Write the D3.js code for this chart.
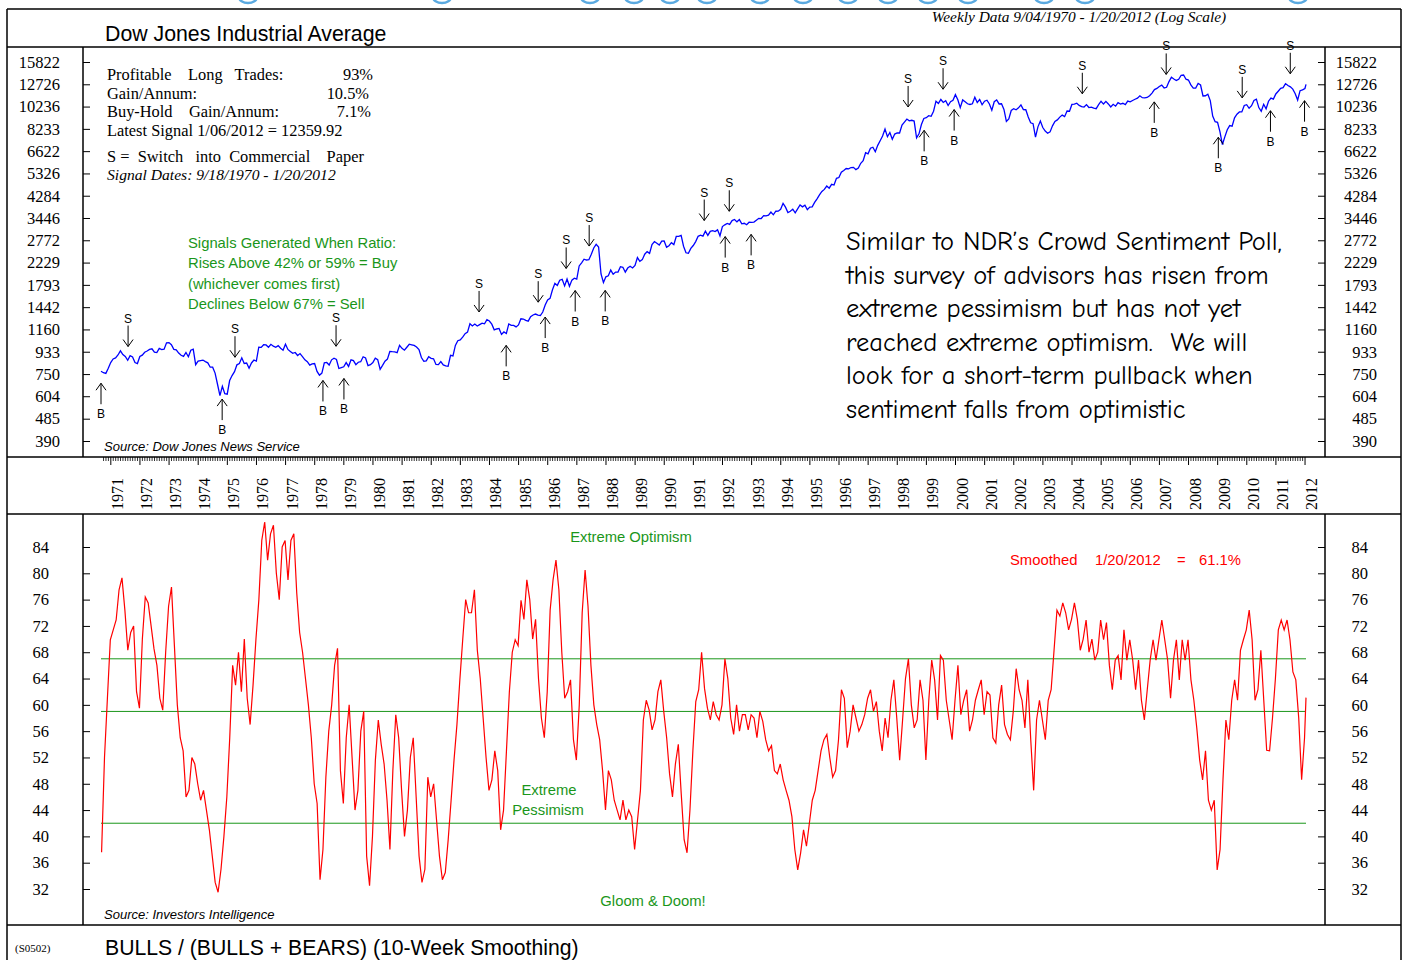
<!DOCTYPE html>
<html>
<head>
<meta charset="utf-8">
<script src="https://cdn.jsdelivr.net/npm/d3@7"></script>
<style>
body{margin:0;background:#fff;}
svg text{white-space:pre;}
</style>
</head>
<body>
<svg id="chart" width="1403" height="960"></svg>
<script>
// ---- data ----
// Dow Jones Industrial Average, monthly samples starting 9/04/1970
const djiaStart = 1970.68;
const djiaValues = [
 771, 760, 755, 794, 839,
 869, 878, 904, 941, 907, 891, 858, 898, 887, 839, 831, 890,
 902, 928, 940, 954, 960, 929, 925, 964, 953, 956, 1018, 1020,
 999, 955, 951, 921, 901, 891, 926, 888, 947, 956, 822, 851,
 856, 860, 847, 837, 802, 802, 757, 679, 608, 665, 619, 616,
 704, 739, 768, 821, 832, 879, 832, 835, 794, 836, 860, 852,
 975, 973, 999, 997, 975, 1003, 985, 974, 990, 965, 947, 1004,
 954, 936, 919, 926, 899, 916, 890, 862, 847, 818, 829, 831,
 770, 742, 757, 837, 840, 819, 862, 876, 865, 792, 799, 805,
 839, 808, 862, 855, 822, 842, 846, 888, 878, 815, 822, 839,
 876, 863, 786, 817, 851, 868, 935, 933, 932, 925, 993, 964,
 947, 975, 1004, 998, 992, 977, 953, 882, 850, 853, 889, 875,
 871, 824, 823, 848, 820, 812, 809, 901, 896, 992, 1039, 1047,
 1076, 1113, 1130, 1226, 1200, 1222, 1199, 1216, 1233, 1225, 1276, 1259,
 1221, 1155, 1165, 1171, 1105, 1132, 1115, 1224, 1207, 1207, 1189, 1212,
 1287, 1284, 1267, 1258, 1315, 1336, 1348, 1334, 1329, 1375, 1472, 1547,
 1571, 1709, 1819, 1784, 1877, 1893, 1775, 1898, 1768, 1878, 1914, 1896,
 2158, 2224, 2305, 2286, 2292, 2419, 2572, 2663, 2596, 1994, 1834, 1939,
 1958, 2072, 1988, 2032, 2031, 2142, 2129, 2032, 2113, 2149, 2115, 2169,
 2342, 2258, 2294, 2419, 2480, 2440, 2661, 2737, 2693, 2645, 2748, 2753,
 2591, 2627, 2707, 2657, 2877, 2881, 2905, 2615, 2453, 2442, 2560, 2634,
 2736, 2882, 2914, 2888, 3028, 2907, 3025, 3044, 3017, 3069, 2895, 3169,
 3224, 3268, 3236, 3359, 3397, 3319, 3394, 3257, 3272, 3226, 3306, 3301,
 3310, 3371, 3435, 3428, 3527, 3516, 3540, 3651, 3555, 3681, 3684, 3754,
 3978, 3832, 3636, 3682, 3758, 3625, 3765, 3913, 3843, 3908, 3739, 3834,
 3844, 4011, 4158, 4321, 4465, 4556, 4709, 4611, 4789, 4756, 5075, 5117,
 5395, 5486, 5588, 5569, 5643, 5655, 5529, 5616, 5882, 6029, 6522, 6448,
 6813, 6878, 6584, 7009, 7331, 7673, 8222, 7622, 7945, 7442, 7823, 7908,
 7907, 8546, 8800, 9063, 8900, 8952, 8883, 7539, 7843, 8592, 9117, 9181,
 9359, 9307, 9786, 10789, 10560, 10971, 10655, 10829, 10337, 10729, 10878, 11497,
 10941, 10128, 10922, 10734, 10522, 10448, 10522, 11215, 10651, 10971, 10415, 10788,
 10887, 10495, 9879, 10735, 10912, 10502, 10523, 9950, 8848, 9075, 9852, 10022,
 9920, 10106, 10404, 9946, 9925, 9243, 8737, 8664, 7592, 8397, 8896, 8342,
 8054, 7891, 7992, 8480, 8850, 8985, 9234, 9416, 9275, 9801, 9782, 10454,
 10488, 10584, 10358, 10226, 10188, 10435, 10140, 10174, 10080, 10027, 10428, 10783,
 10490, 10766, 10504, 10193, 10467, 10275, 10641, 10482, 10569, 10440, 10806, 10718,
 10865, 10993, 11109, 11367, 11168, 11150, 11186, 11381, 11679, 12081, 12221, 12463,
 12622, 12269, 12354, 13063, 13628, 13409, 13212, 13358, 13896, 13930, 13372, 13265,
 12650, 12266, 12263, 12820, 12638, 11350, 11378, 11544, 10851, 9325, 8829, 8776,
 8001, 7063, 7609, 8168, 8500, 8447, 9172, 9496, 9712, 9713, 10345, 10428,
 10067, 10325, 10857, 11009, 10137, 9774, 10466, 10015, 10788, 11118, 11006, 11578,
 11892, 12226, 12320, 12811, 12570, 12414, 12143, 11614, 10913, 11955, 12046, 12218
];
const djiaLast = [2012.05, 12720];
const djiaTicks = [390, 485, 604, 750, 933, 1160, 1442, 1793, 2229, 2772, 3446, 4284, 5326, 6622, 8233, 10236, 12726, 15822];

// Bulls / (Bulls + Bears), 10-week smoothing, sampled every 0.1 year from 1970.7
const sentStart = 1970.7;
const sentValues = [
 37.6, 52, 61,
 69.9, 71.4, 72.9, 77.5, 79.3, 74.4, 68.3, 71, 72, 62,
 59.5, 70, 76.4, 75.5, 72, 68.5, 66, 61, 59.2, 68,
 75, 77.9, 69, 60, 55, 53, 46, 47, 52, 51,
 48, 45.5, 47, 44, 41, 37, 33, 31.5, 35, 40,
 46, 55, 66, 63, 68, 62, 70, 61, 57, 63,
 70, 76, 85, 87.8, 82, 86, 87.3, 80, 76, 84,
 85, 79, 85, 86, 77, 71, 68, 64, 60, 55,
 48, 45, 33.4, 38, 49, 56, 60, 66, 68.6, 50,
 45, 55, 60, 52, 44, 47, 56, 59, 37, 32.5,
 40, 51.6, 57.7, 54, 51, 45.5, 38, 50, 58.5, 55,
 47, 40, 44, 52, 55, 46, 37, 33, 35, 49,
 46, 48, 42.5, 37, 33.4, 34.5, 39.5, 45.5, 51.6, 57,
 63.8, 70, 76, 74, 74, 77.5, 68.3, 64, 58, 52,
 47, 48.6, 53, 50, 41, 44, 53, 62, 68, 69.9,
 69, 75.9, 73, 79, 76, 70, 73, 64, 58, 55,
 62, 74.4, 79, 82, 77.5, 68, 61, 62, 63.8, 54.7,
 51.6, 60, 74, 80.5, 75, 66, 60, 57, 54.7, 50,
 44, 50, 48.6, 45.5, 44, 42.5, 45.5, 42.5, 44, 43,
 38, 42.5, 47, 57.7, 60.7, 59.2, 56.2, 57.7, 62, 63.8,
 59, 55, 49.5, 46, 51, 54, 46.5, 39.5, 37.5, 44,
 53, 60.5, 62.3, 68, 62.5, 59.5, 57.7, 60.5, 58.5, 57.7,
 60, 67, 64, 58, 55.5, 60, 56, 58.5, 58.5, 56.2,
 58.5, 58, 55, 59, 57.5, 54.7, 53, 53.8, 50, 49.5,
 51, 48.6, 47, 45.5, 43, 38, 34.9, 37.5, 41, 38.5,
 42, 45.5, 47, 50, 53, 54.7, 55.5, 52, 49, 50,
 54.7, 62.3, 61, 53.5, 56, 60, 58, 56, 57, 58.5,
 61, 62.3, 59, 60.5, 56, 53, 58, 55, 60.7, 63.8,
 58, 51.6, 57.7, 64, 67, 60, 56.5, 57.7, 63.8, 60.7,
 51.6, 60.7, 66.8, 63.8, 57.7, 67.5, 66.8, 60.7, 57.7, 54.7,
 60.7, 66, 58.5, 60.7, 62.3, 56, 57.7, 60.7, 62.3, 63.8,
 58.5, 62, 61.5, 55, 54.2, 60, 63, 57, 55.5, 54.7,
 59, 65.5, 62.3, 60.7, 56.5, 63.8, 54.7, 47, 57.7, 60.7,
 57.7, 54.7, 60.7, 62.3, 68.3, 74.4, 73.5, 75.5, 74, 71.4,
 73, 75.5, 73, 68.3, 70, 72.9, 68, 70, 66.8, 68,
 72.9, 69.9, 72.5, 66, 62.3, 66.8, 67.5, 63.8, 71.4, 66.8,
 69.9, 66.8, 62.3, 66.8, 60.7, 57.7, 62.3, 66.8, 69.9, 66.8,
 69.9, 72.9, 69.9, 66.8, 61, 66.8, 69.9, 63.8, 69.9, 66.8,
 69.9, 63.8, 60.7, 56.5, 51.6, 48.6, 53, 45.5, 44, 45.5,
 34.9, 38, 48.6, 57.7, 54.7, 60.7, 63.8, 60.7, 68.3, 69.9,
 71.4, 74.4, 69.9, 60.7, 62.3, 68.3, 60.7, 53.1, 53, 58,
 64, 71.4, 72.9, 71.4, 72.9, 69.9, 65, 63.8, 58, 48.6,
 55
];
const sentLast = [2012.05, 61.1];
const sentTicks = [32, 36, 40, 44, 48, 52, 56, 60, 64, 68, 72, 76, 80, 84];
const thresholds = [42, 59, 67];

// signal dates (decimal years)
const sellDates = [1971.61, 1975.28, 1978.75, 1983.66, 1985.69, 1986.65, 1987.44, 1991.39, 1992.25, 1998.39, 1999.59, 2004.37, 2007.25, 2009.86, 2011.51];
const buyDates = [1970.68, 1974.84, 1978.30, 1979.02, 1984.59, 1985.93, 1986.96, 1987.99, 1992.11, 1993.00, 1998.94, 1999.97, 2006.84, 2009.04, 2010.83, 2012.00];
const years = d3.range(1971, 2013);

const statLines = [
  ["Profitable    Long   Trades:", "93%", 373],
  ["Gain/Annum:", "10.5%", 369],
  ["Buy-Hold    Gain/Annum:", "7.1%", 371],
  ["Latest Signal 1/06/2012 = 12359.92", "", 0]
];
const ruleLines = ["Signals Generated When Ratio:", "Rises Above 42% or 59% = Buy", "(whichever comes first)", "Declines Below 67% = Sell"];
const noteLines = ["Similar to NDR\u2019s Crowd Sentiment Poll,", "this survey of advisors has risen from", "extreme pessimism but has not yet", "reached extreme optimism.  We will", "look for a short-term pullback when", "sentiment falls from optimistic"];
const latestParts = ["Smoothed", "1/20/2012", "=", "61.1%"];
const headerDots = [248, 442, 590, 634, 670, 707, 760, 803, 848, 888, 928, 968, 1044, 1085, 1298];

// ---- build series ----
const djia = djiaValues.map((v, i) => [djiaStart + i / 12, v]);
djia.push(djiaLast);
const sent = sentValues.map((v, i) => [sentStart + i * 0.1, v]);
sent.push(sentLast);

const SANS = "'Liberation Sans', Arial, sans-serif";
const SERIF = "'Liberation Serif', 'Times New Roman', serif";
const GREEN = "#1a961a";

const svg = d3.select("#chart");
const L = 7, R = 1401, AX = 83, AXR = 1325;

const x = d3.scaleLinear().domain([1970.68, 2012.05]).range([101, 1306]);
const yTop = d3.scaleLog().domain([390, 15822]).range([441, 62]);
const yBot = d3.scaleLinear().domain([32, 84]).range([889, 547]);

// light-blue fragments cut by the top edge
svg.append("g").selectAll("ellipse").data(headerDots).join("ellipse")
  .attr("cx", d => d).attr("cy", -3).attr("rx", 9).attr("ry", 6)
  .attr("fill", "none").attr("stroke", "#5aa9e0").attr("stroke-width", 2.5);

// ---- frames ----
const frame = svg.append("g").attr("stroke", "#000").attr("stroke-width", 1.5);
[9, 47, 457, 514, 925].forEach(function(yy){
  frame.append("line").attr("x1", L).attr("x2", R).attr("y1", yy).attr("y2", yy);
});
frame.append("line").attr("x1", L).attr("x2", L).attr("y1", 9).attr("y2", 960);
frame.append("line").attr("x1", R).attr("x2", R).attr("y1", 9).attr("y2", 960);
[[47, 457], [514, 925]].forEach(function(p){
  frame.append("line").attr("x1", AX).attr("x2", AX).attr("y1", p[0]).attr("y2", p[1]);
  frame.append("line").attr("x1", AXR).attr("x2", AXR).attr("y1", p[0]).attr("y2", p[1]);
});

// ---- axes ----
function styleAxis(g, size) {
  g.select(".domain").remove();
  g.attr("font-family", null).attr("font-size", null);
  g.selectAll("line").attr("stroke", "#000");
  g.selectAll("text").style("font-family", SERIF).style("font-size", size + "px").attr("fill", "#000");
}
svg.append("g").attr("transform", "translate(" + AX + ",0)")
  .call(d3.axisLeft(yTop).tickValues(djiaTicks).tickFormat(d3.format("d")).tickSize(-7).tickSizeOuter(0).tickPadding(23))
  .call(g => styleAxis(g, 16.5));
svg.append("g").attr("transform", "translate(" + AXR + ",0)")
  .call(d3.axisRight(yTop).tickValues(djiaTicks).tickFormat(d3.format("d")).tickSize(-7).tickSizeOuter(0))
  .call(g => styleAxis(g, 16.5))
  .call(g => g.selectAll("text").attr("x", 52).attr("text-anchor", "end"));
svg.append("g").attr("transform", "translate(" + AX + ",0)")
  .call(d3.axisLeft(yBot).tickValues(sentTicks).tickSize(-7).tickSizeOuter(0).tickPadding(34))
  .call(g => styleAxis(g, 16.5));
svg.append("g").attr("transform", "translate(" + AXR + ",0)")
  .call(d3.axisRight(yBot).tickValues(sentTicks).tickSize(-7).tickSizeOuter(0))
  .call(g => styleAxis(g, 16.5))
  .call(g => g.selectAll("text").attr("x", 43).attr("text-anchor", "end"));

// time axis strip
const months = d3.range(1970 + 9 / 12, 2012.05, 1 / 12).filter(m => Math.abs(m - Math.round(m)) > 0.01);
svg.append("g").attr("transform", "translate(0,457)")
  .call(d3.axisBottom(x).tickValues(months).tickSize(4).tickFormat("").tickSizeOuter(0))
  .call(g => styleAxis(g, 16))
  .call(g => g.selectAll("line").attr("stroke-width", 0.8));
svg.append("g").attr("transform", "translate(0,457)")
  .call(d3.axisBottom(x).tickValues(years).tickSize(8).tickFormat(d3.format("d")).tickSizeOuter(0))
  .call(g => styleAxis(g, 16))
  .call(g => g.selectAll("text").attr("transform", "rotate(-90)").attr("text-anchor", "start")
    .attr("x", -53).attr("y", 12).attr("dy", null));

// ---- clip paths ----
const defs = svg.append("defs");
defs.append("clipPath").attr("id", "clipTop").append("rect")
  .attr("x", AX).attr("y", 47).attr("width", AXR - AX).attr("height", 410);
defs.append("clipPath").attr("id", "clipBot").append("rect")
  .attr("x", AX).attr("y", 514).attr("width", AXR - AX).attr("height", 411);

// ---- top panel ----
svg.append("text").attr("x", 105).attr("y", 41).attr("font-family", SANS).attr("font-size", 21.3)
  .text("Dow Jones Industrial Average");
svg.append("text").attr("x", 1079).attr("y", 22).attr("text-anchor", "middle").attr("font-family", SERIF)
  .attr("font-style", "italic").attr("font-size", 15.4).text("Weekly Data 9/04/1970 - 1/20/2012 (Log Scale)");

svg.append("path").datum(djia).attr("clip-path", "url(#clipTop)")
  .attr("fill", "none").attr("stroke", "#0000ff").attr("stroke-width", 1.3)
  .attr("d", d3.line().x(d => x(d[0])).y(d => yTop(d[1])));

const bis = d3.bisector(d => d[0]).left;
function priceAt(t) {
  const i = Math.max(1, Math.min(djia.length - 1, bis(djia, t)));
  const a = djia[i - 1], b = djia[i];
  return a[1] + (b[1] - a[1]) * (t - a[0]) / (b[0] - a[0]);
}
const sig = svg.append("g").attr("stroke", "#000").attr("stroke-width", 1).attr("fill", "none");
const sigText = svg.append("g").attr("font-family", SANS).attr("font-size", 12).attr("text-anchor", "middle");
sellDates.forEach(function(t){
  const cx = x(t), tip = yTop(priceAt(t)) - 13;
  sig.append("path").attr("d", "M" + cx + "," + (tip - 21) + "V" + tip + "M" + (cx - 5) + "," + (tip - 7) + "L" + cx + "," + tip + "L" + (cx + 5) + "," + (tip - 7));
  sigText.append("text").attr("x", cx).attr("y", tip - 24).text("S");
});
buyDates.forEach(function(t){
  const cx = x(t), tip = yTop(priceAt(t)) + 12;
  sig.append("path").attr("d", "M" + cx + "," + (tip + 21) + "V" + tip + "M" + (cx - 5) + "," + (tip + 7) + "L" + cx + "," + tip + "L" + (cx + 5) + "," + (tip + 7));
  sigText.append("text").attr("x", cx).attr("y", tip + 35).text("B");
});

// stats block
const stats = svg.append("g").attr("font-family", SERIF).attr("font-size", 16.4);
statLines.forEach(function(s, i){
  const yy = 80 + i * 18.7;
  stats.append("text").attr("x", 107).attr("y", yy).text(s[0]);
  if (s[1]) stats.append("text").attr("x", s[2]).attr("y", yy).attr("text-anchor", "end").text(s[1]);
});
stats.append("text").attr("x", 107).attr("y", 162).text("S =  Switch   into  Commercial    Paper");
stats.append("text").attr("x", 107).attr("y", 180).attr("font-style", "italic").attr("font-size", 15.6)
  .text("Signal Dates: 9/18/1970 - 1/20/2012");

const rules = svg.append("g").attr("font-family", SANS).attr("font-size", 14.8).attr("fill", GREEN);
ruleLines.forEach(function(s, i){
  rules.append("text").attr("x", 188).attr("y", 248 + i * 20.4).text(s);
});

const note = svg.append("g").attr("font-family", "'Comic Sans MS', 'Comic Neue', 'DejaVu Sans', sans-serif").attr("font-size", 24).attr("fill", "#000");
noteLines.forEach(function(s, i){
  note.append("text").attr("x", 846).attr("y", 250 + i * 33.5).text(s);
});
const w0 = note.select("text").node().getComputedTextLength();
note.attr("font-size", 24 * 436 / w0);

svg.append("text").attr("x", 104).attr("y", 451).attr("font-family", SANS).attr("font-style", "italic")
  .attr("font-size", 13).text("Source: Dow Jones News Service");

// ---- bottom panel ----
svg.append("g").selectAll("line").data(thresholds).join("line")
  .attr("x1", x(1970.68)).attr("x2", x(2012.05))
  .attr("y1", d => yBot(d)).attr("y2", d => yBot(d))
  .attr("stroke", GREEN).attr("stroke-width", 1);

svg.append("path").datum(sent).attr("clip-path", "url(#clipBot)")
  .attr("fill", "none").attr("stroke", "#ff0000").attr("stroke-width", 1.2)
  .attr("d", d3.line().x(d => x(d[0])).y(d => yBot(d[1])));

const lab = svg.append("g").attr("font-family", SANS).attr("font-size", 14.8).attr("fill", GREEN).attr("text-anchor", "middle");
lab.append("text").attr("x", 631).attr("y", 542).text("Extreme Optimism");
lab.append("text").attr("x", 549).attr("y", 795).text("Extreme");
lab.append("text").attr("x", 548).attr("y", 815).text("Pessimism");
lab.append("text").attr("x", 653).attr("y", 906).text("Gloom & Doom!");

const latestX = [1010, 1095, 1177, 1199];
svg.append("g").attr("font-family", SANS).attr("font-size", 14.8).attr("fill", "#ff0000")
  .selectAll("text").data(latestParts).join("text")
  .attr("x", (d, i) => latestX[i]).attr("y", 565).text(d => d);

svg.append("text").attr("x", 104).attr("y", 919).attr("font-family", SANS).attr("font-style", "italic")
  .attr("font-size", 13).text("Source: Investors Intelligence");

svg.append("text").attr("x", 15).attr("y", 952).attr("font-family", SERIF).attr("font-size", 11).text("(S0502)");
svg.append("text").attr("x", 105).attr("y", 955).attr("font-family", SANS).attr("font-size", 21.2)
  .text("BULLS / (BULLS + BEARS) (10-Week Smoothing)");
</script>
</body>
</html>
